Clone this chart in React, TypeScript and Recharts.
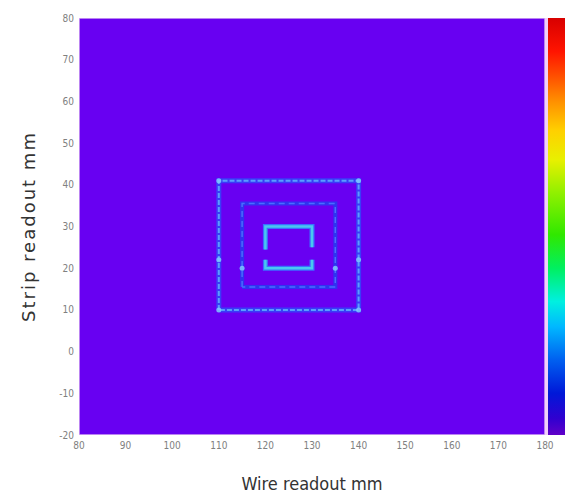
import React from 'react';
import { ComposedChart, Line, XAxis, YAxis, ReferenceArea, Scatter } from 'recharts';

const xTicks = [80, 90, 100, 110, 120, 130, 140, 150, 160, 170, 180];
const yTicks = [-20, -10, 0, 10, 20, 30, 40, 50, 60, 70, 80];

const outerSquare = [
  { x: 110, y: 10 }, { x: 110, y: 41 }, { x: 140, y: 41 }, { x: 140, y: 10 }, { x: 110, y: 10 },
];
const middleSquare = [
  { x: 115, y: 15.5 }, { x: 115, y: 35.5 }, { x: 135, y: 35.5 }, { x: 135, y: 15.5 }, { x: 115, y: 15.5 },
];
const innerTop = [
  { x: 120, y: 24.5 }, { x: 120, y: 30 }, { x: 130, y: 30 }, { x: 130, y: 25 },
];
const innerBottom = [
  { x: 120, y: 22 }, { x: 120, y: 20 }, { x: 130, y: 20 }, { x: 130, y: 22 },
];
const brightSpots = [
  { x: 110, y: 22 }, { x: 140, y: 22 }, { x: 115, y: 20 }, { x: 135, y: 20 },
  { x: 110, y: 41 }, { x: 140, y: 41 }, { x: 110, y: 10 }, { x: 140, y: 10 },
];

const font = '"DejaVu Sans Condensed", "Liberation Sans Narrow", "Liberation Sans", Arial, sans-serif';
const fontWide = '"DejaVu Sans", Arial, sans-serif';

const Spot = (p: any) => <circle cx={p.cx} cy={p.cy} r={2.5} fill="#80c8ff" fillOpacity={0.85} />;

export default function App() {
  return (
    <div style={{ position: 'absolute', left: 0, top: 0, width: 565, height: 493, background: '#ffffff' }}>
      <ComposedChart width={565} height={493} margin={{ top: 18, right: 20, bottom: 0, left: 0 }}>
        <XAxis
          type="number"
          dataKey="x"
          domain={[80, 180]}
          ticks={xTicks}
          interval={0}
          axisLine={false}
          tickLine={false}
          tickSize={3}
          height={58}
          tick={{ fontSize: 10, fill: '#808080', fontFamily: font }}
          tickMargin={4}
          label={{ value: 'Wire readout  mm', position: 'insideBottom', offset: 3, fontSize: 18, fill: '#333', fontFamily: font }}
        />
        <YAxis
          type="number"
          dataKey="y"
          domain={[-20, 80]}
          ticks={yTicks}
          interval={0}
          axisLine={false}
          tickLine={false}
          tickSize={3}
          width={79}
          tick={{ fontSize: 10, fill: '#808080', fontFamily: font }}
          tickMargin={2}
          label={{ value: 'Strip readout  mm', angle: -90, position: 'insideLeft', offset: 29, fontSize: 18, fill: '#333', fontFamily: fontWide, style: { textAnchor: 'middle', letterSpacing: 2 } }}
        />
        <ReferenceArea x1={80} x2={180} y1={-20} y2={80} fill="#6800f2" fillOpacity={1} stroke="#d6b0f2" strokeWidth={1.5} ifOverflow="hidden" />
        <Line data={outerSquare} dataKey="y" type="linear" stroke="#3a3cf8" strokeWidth={5} dot={false} isAnimationActive={false} />
        <Line data={outerSquare} dataKey="y" type="linear" stroke="#5a9cff" strokeWidth={2} strokeDasharray="5 2" dot={false} isAnimationActive={false} />
        <Line data={middleSquare} dataKey="y" type="linear" stroke="#3032f0" strokeWidth={4} dot={false} isAnimationActive={false} />
        <Line data={middleSquare} dataKey="y" type="linear" stroke="#4a6cff" strokeWidth={1.5} strokeDasharray="6 4" dot={false} isAnimationActive={false} />
        <Line data={innerTop} dataKey="y" type="linear" stroke="#3a70ff" strokeWidth={5} dot={false} isAnimationActive={false} />
        <Line data={innerTop} dataKey="y" type="linear" stroke="#48c8f0" strokeWidth={2.5} dot={false} isAnimationActive={false} />
        <Line data={innerBottom} dataKey="y" type="linear" stroke="#3a70ff" strokeWidth={5} dot={false} isAnimationActive={false} />
        <Line data={innerBottom} dataKey="y" type="linear" stroke="#48c8f0" strokeWidth={2.5} dot={false} isAnimationActive={false} />
        <Scatter data={brightSpots} dataKey="y" shape={Spot} isAnimationActive={false} legendType="none" />
      </ComposedChart>
      <div style={{ position: 'absolute', left: 545, top: 18, width: 3, height: 417, background: '#f2d0fa' }} />
      <div
        style={{
          position: 'absolute', left: 548, top: 18, width: 17, height: 417,
          background: 'linear-gradient(to bottom, #d80000 0%, #ff1400 8%, #ff5000 14%, #ff9000 20%, #ffd000 27%, #e8f000 34%, #90f000 42%, #30e800 52%, #00f060 60%, #00f0e0 68%, #00b8ff 74%, #0060f0 82%, #0018d8 90%, #3000d0 96%, #6000c8 100%)',
        }}
      />
    </div>
  );
}
